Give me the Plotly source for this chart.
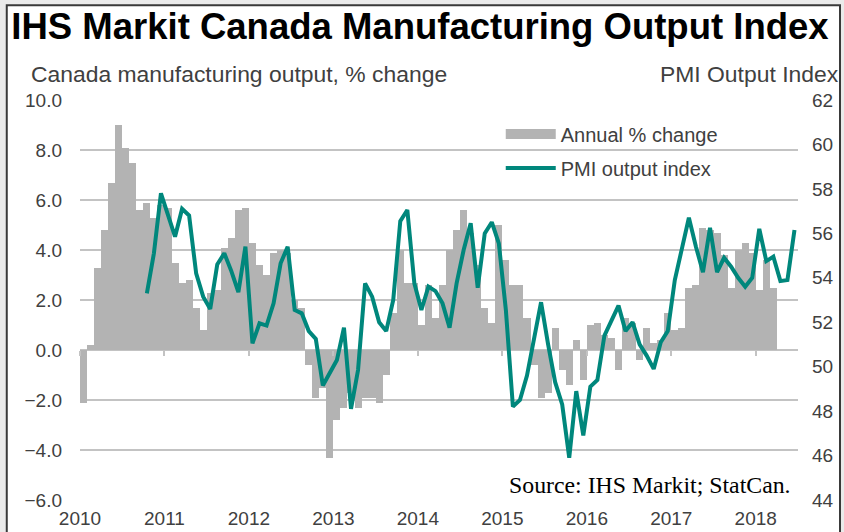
import numpy as np
import pandas as pd
import plotly.graph_objects as go

# monthly axis: Jan 2010 .. Jun 2018
months = pd.date_range("2010-01-01", "2018-06-01", freq="MS")
years = [2010, 2011, 2012, 2013, 2014, 2015, 2016, 2017, 2018]

# Canada manufacturing output, annual % change (Jan 2010 .. Mar 2018)
mfg_change = [
    -2.1, 0.2, 3.3, 4.8, 6.7, 9.0, 8.1, 7.5, 5.6, 5.9, 5.3, 5.8,
    5.7, 3.5, 2.7, 2.8, 1.7, 0.8, 2.3, 2.4, 4.1, 4.5, 5.6, 5.7,
    4.3, 3.4, 3.0, 3.9, 4.0, 3.9, 2.0, 1.7, -0.6, -1.9, -1.5, -4.3,
    -2.8, -2.3, -1.7, -2.3, -1.9, -1.9, -2.1, -1.0, 1.5, 4.0, 2.7, 2.7,
    1.0, 2.6, 1.3, 2.6, 4.0, 4.8, 5.6, 4.7, 3.4, 1.7, 1.1, 5.0,
    3.6, 2.6, 2.6, 1.3, -0.6, -1.9, -1.7, 0.9, -0.8, -1.4, 0.4, -1.2,
    1.0, 1.1, 0.6, 0.5, -0.8, 1.3, 1.1, -0.4, 0.9, 0.3, 0.4, 1.5,
    0.8, 0.9, 2.5, 2.6, 4.9, 4.8, 4.7, 3.8, 2.5, 4.0, 4.3, 3.9,
    2.4, 3.6, 2.5,
]

# PMI output index (Oct 2010 .. Jun 2018)
pmi_start = 9
pmi_output = [
    53.3, 55.1, 57.8,
    56.8, 55.85, 57.1, 56.8, 54.2, 53.15, 52.6, 54.6, 55.1, 54.3, 53.35, 55.4,
    51.05, 51.95, 51.85, 52.85, 54.65, 55.4, 52.55, 52.4, 51.6, 51.25, 49.15, 49.7,
    50.3, 51.75, 48.1, 49.85, 53.75, 53.15, 52.0, 51.6, 53.0, 56.55, 57.05, 53.75,
    52.55, 53.6, 53.4, 52.85, 51.75, 53.75, 55.25, 56.45, 53.55, 56.0, 56.5, 55.55,
    52.55, 48.2, 48.5, 49.6, 51.2, 52.9, 51.0, 49.3, 48.3, 45.9, 48.9, 46.9,
    49.1, 49.4, 51.4, 52.1, 52.75, 51.6, 52.0, 51.0, 50.5, 49.9, 51.1, 51.6,
    53.9, 55.3, 56.7, 55.4, 54.25, 56.25, 54.25, 54.9, 54.5, 54.0, 53.6, 54.0,
    56.2, 54.75, 54.95, 53.85, 53.9, 56.15,
]

idx = np.arange(len(months))
bar_x = idx[:len(mfg_change)]
pmi_x = idx[pmi_start:pmi_start + len(pmi_output)]
year_ticks = [12 * i - 0.5 for i in range(len(years))]

GRAY = "#b3b3b3"
TEAL = "#00877c"
TXT = "#404040"
GRID = "#c3c3c3"
FONT = "Liberation Sans, Arial, sans-serif"

fig = go.Figure()
fig.add_trace(go.Bar(x=bar_x, y=mfg_change, marker=dict(color=GRAY, line=dict(width=0)),
                     name="Annual % change", showlegend=False, xaxis="x", yaxis="y"))
fig.add_trace(go.Scatter(x=pmi_x, y=pmi_output, mode="lines", line=dict(color=TEAL, width=4),
                         name="PMI output index", legend="legend2", xaxis="x2", yaxis="y2"))
# legend proxy for the bars (wide grey swatch)
fig.add_trace(go.Scatter(x=[None], y=[None], mode="lines", line=dict(color=GRAY, width=10),
                         name="Annual % change", legend="legend", xaxis="x", yaxis="y"))

fig.update_layout(
    width=844, height=532,
    margin=dict(l=80, r=46, t=100, b=32),
    paper_bgcolor="#ebebeb", plot_bgcolor="white",
    font=dict(family=FONT, color=TXT, size=19),
    bargap=0,
    title=dict(text="<b>IHS Markit Canada Manufacturing Output Index</b>",
               x=0.4976, xref="container", xanchor="center",
               y=0.951, yref="container", yanchor="middle",
               font=dict(family=FONT, size=36.5, color="#000000")),
    xaxis=dict(range=[-0.5, 101.5], tickvals=year_ticks, ticktext=[str(y) for y in years],
               showgrid=False, zeroline=False, showline=False, ticks="", ticklabelstandoff=5,
               automargin=False, tickfont=dict(size=19, color=TXT)),
    xaxis2=dict(matches="x", overlaying="x", anchor="free", position=0.375,
                tickvals=year_ticks, showticklabels=False, ticks="outside", ticklen=5,
                tickcolor=GRID, tickwidth=1.5, showgrid=False, zeroline=False, showline=False,
                automargin=False),
    yaxis=dict(range=[-6, 10], dtick=2, tickformat=".1f", showgrid=True, gridcolor=GRID,
               gridwidth=1.5, zeroline=False, showline=False, ticks="", ticklabelstandoff=17,
               automargin=False, tickfont=dict(size=19, color=TXT)),
    yaxis2=dict(range=[44, 62], dtick=2, overlaying="y", side="right", anchor="x",
                showgrid=False, zeroline=False, showline=False, ticks="", ticklabelstandoff=13,
                automargin=False, tickfont=dict(size=19, color=TXT)),
    legend=dict(x=0.586, y=0.915, xanchor="left", yanchor="middle", bgcolor="rgba(0,0,0,0)",
                font=dict(size=20, color=TXT), itemwidth=50),
    legend2=dict(x=0.586, y=0.83, xanchor="left", yanchor="middle", bgcolor="rgba(0,0,0,0)",
                 font=dict(size=20, color=TXT), itemwidth=50),
)

fig.add_annotation(text="Canada manufacturing output, % change", xref="paper", yref="paper",
                   x=-0.071, y=1.065, xanchor="left", yanchor="middle", showarrow=False,
                   font=dict(size=22.9, color=TXT))
fig.add_annotation(text="PMI Output Index", xref="paper", yref="paper",
                   x=1.06, y=1.065, xanchor="right", yanchor="middle", showarrow=False,
                   font=dict(size=22.9, color=TXT))
fig.add_annotation(text="Source: IHS Markit; StatCan.", xref="paper", yref="paper",
                   x=0.993, y=0.0375, xanchor="right", yanchor="middle", showarrow=False,
                   font=dict(family="Liberation Serif, Times New Roman, serif", size=23.8,
                             color="#000000"))

# outer white panel with dark frame
fig.add_shape(type="rect", xref="paper", yref="paper", x0=-0.102, x1=1.0585, y0=-0.2, y1=1.237,
              line=dict(color="#3a3a3a", width=2), fillcolor="white", layer="below")

# the page body has an 8px default margin; drop it so the 844x532 figure fills the window
fig.write_html("out.html", config={"displayModeBar": False},
               post_script="document.body.style.margin='0';")
